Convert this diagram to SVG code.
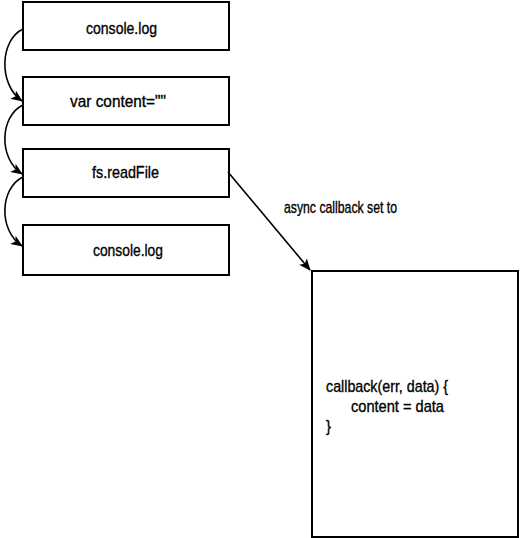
<svg xmlns="http://www.w3.org/2000/svg" width="520" height="538" viewBox="0 0 520 538">
<style>
.box{fill:#fff;stroke:#000;stroke-width:2}
.t{font-family:"Liberation Sans Narrow","Liberation Sans",Arial,sans-serif;font-size:17px;fill:#000;stroke:#000;stroke-width:0.35}
.c{fill:none;stroke:#000;stroke-width:1.6}
</style>
<defs>
<marker id="ah" markerWidth="12" markerHeight="10" refX="11" refY="5" orient="auto" markerUnits="userSpaceOnUse">
<path d="M0,0 L12,5 L0,10 L3,5 Z" fill="#000"/>
</marker>
</defs>
<rect width="520" height="538" fill="#fff"/>
<g id="n1"><rect class="box" x="23" y="2" width="206" height="48"/><text class="t" x="86" y="34" textLength="71" lengthAdjust="spacingAndGlyphs">console.log</text></g>
<g id="n2"><rect class="box" x="23" y="77" width="206" height="48"/><text class="t" x="70" y="107" textLength="96" lengthAdjust="spacingAndGlyphs">var content=""</text></g>
<g id="n3"><rect class="box" x="23" y="149" width="206" height="48"/><text class="t" x="92" y="178" textLength="67" lengthAdjust="spacingAndGlyphs">fs.readFile</text></g>
<g id="n4"><rect class="box" x="23" y="225" width="206" height="50"/><text class="t" x="93" y="256" textLength="70" lengthAdjust="spacingAndGlyphs">console.log</text></g>
<g id="n5"><rect class="box" x="312" y="271" width="206" height="266"/>
<text class="t" x="326" y="392" textLength="122" lengthAdjust="spacingAndGlyphs">callback(err, data) {</text>
<text class="t" x="351" y="412" textLength="93" lengthAdjust="spacingAndGlyphs">content = data</text>
<text class="t" x="326" y="432" textLength="5" lengthAdjust="spacingAndGlyphs">}</text></g>
<g id="connectors">
<path class="c" d="M23,29 C0,40 -2,84 22,101" marker-end="url(#ah)"/>
<path class="c" d="M23,105 C0,116 -2,158 22,174" marker-end="url(#ah)"/>
<path class="c" d="M23,177 C0,188 -2,230 22,246" marker-end="url(#ah)"/>
<path class="c" d="M228,172 L310,270" marker-end="url(#ah)"/>
<text class="t" x="284" y="213" textLength="113" lengthAdjust="spacingAndGlyphs">async callback set to</text>
</g>
</svg>
